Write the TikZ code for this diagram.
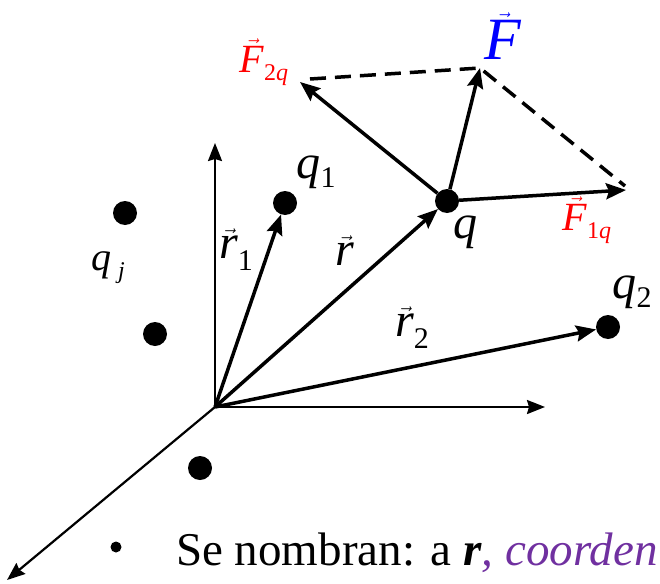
\documentclass[tikz,border=0pt]{standalone}
\usepackage{fontspec}
\setmainfont{Liberation Serif}
\usetikzlibrary{arrows.meta}
\definecolor{purp}{HTML}{7030A0}
\newcommand{\vi}[1]{$\vec{\mbox{\itshape #1}}$}
\tikzset{
  dot/.style={circle,fill=black,inner sep=0pt,minimum size=24pt},
  vecarrow/.style={line width=3.5pt,-{Stealth[length=20pt,width=16pt,inset=3pt]}},
  axis/.style={line width=2.2pt,-{Stealth[length=18pt,width=14pt,inset=2pt]}},
  lbl/.style={inner sep=0pt,font=\fontsize{48}{52}\selectfont},
  dashline/.style={line width=3.5pt,dash pattern=on 16pt off 9pt},
}
\begin{document}
\begin{tikzpicture}[x=1pt,y=-1pt]
\useasboundingbox (0,0) rectangle (660,583);
% axes
\coordinate (O) at (215,407);
\coordinate (ytip) at (215,143);
\coordinate (xtip) at (545,407);
\coordinate (ztip) at (7,580);
\draw[axis] (O) -- (ytip);
\draw[axis] (O) -- (xtip);
\draw[axis] (O) -- (ztip);
% charges
\node[dot] (q1) at (285,203) {};
\node[dot] (q) at (447,201) {};
\node[dot] (q2) at (608,327) {};
\node[dot] (j1) at (125,213) {};
\node[dot] (j2) at (155,334) {};
\node[dot] (j3) at (200,468) {};
% position vectors
\draw[vecarrow] (O) -- (q1);
\draw[vecarrow] (O) -- (q);
\draw[vecarrow] (O) -- (q2);
% forces
\coordinate (F2) at (300,82);
\coordinate (F) at (480,68);
\coordinate (F1) at (626,190);
\draw[vecarrow] (q) -- (F2);
\draw[vecarrow] (q) -- (F);
\draw[vecarrow] (q) -- (F1);
\coordinate (d1) at (310,79);
\coordinate (d3) at (625,186);
\draw[dashline] (d1) -- (F) -- (d3);
% labels
\node[lbl] (lq1) at (316,172) {\itshape q\fontsize{30}{32}\selectfont\upshape\raisebox{-9pt}{1}};
\node[lbl] (lq) at (465,232) {\itshape q};
\node[lbl] (lq2) at (632,292) {\itshape q\fontsize{30}{32}\selectfont\upshape\raisebox{-9pt}{2}};
\node[lbl,font=\fontsize{40}{44}\selectfont] (lqj) at (108,268) {\itshape q\,\fontsize{24}{26}\selectfont\raisebox{-8pt}{j}};
\node[lbl] (lr1) at (236,250) {\vi{r}\fontsize{30}{32}\selectfont\raisebox{-12pt}{1}};
\node[lbl] (lr) at (345,251) {\vi{r}};
\node[lbl] (lr2) at (412,328) {\vi{r}\fontsize{30}{32}\selectfont\raisebox{-12pt}{2}};
\node[lbl,text=red,font=\fontsize{40}{44}\selectfont] (lF2) at (264,62) {\vi{F}\fontsize{24}{26}\selectfont\raisebox{-8pt}{2\itshape q}};
\node[lbl,text=blue,font=\fontsize{60}{64}\selectfont] (lF) at (503,36) {\vi{F}};
\node[lbl,text=red,font=\fontsize{40}{44}\selectfont] (lF1) at (587,220) {\vi{F}\fontsize{24}{26}\selectfont\raisebox{-8pt}{1\itshape q}};
% bottom text
\node[circle,fill=black,inner sep=0pt,minimum size=11pt] (bul) at (116,547) {};
\node[anchor=base west,inner sep=0pt,font=\fontsize{47}{52}\selectfont] (txt) at (176,565) {Se nombran: a \textbf{\itshape r}\textcolor{purp}{\itshape , coorden}};
\end{tikzpicture}
\end{document}
